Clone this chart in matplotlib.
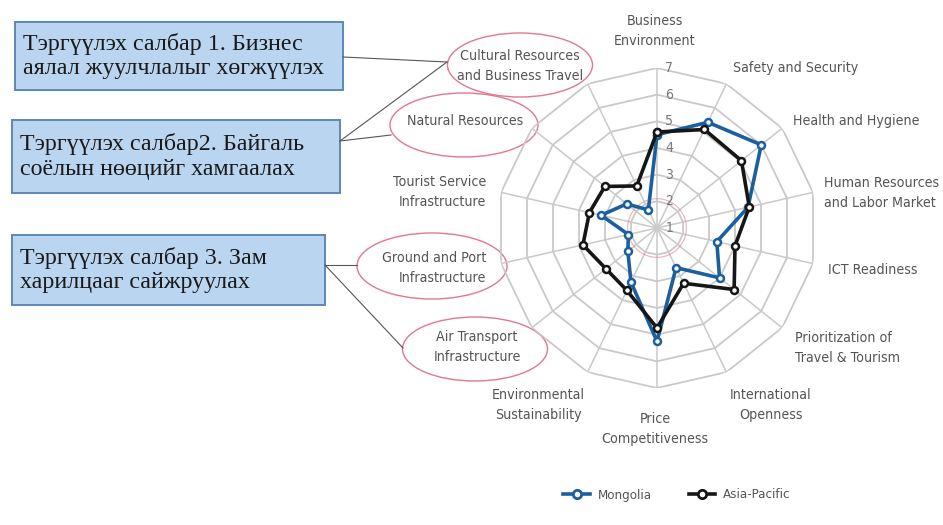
import numpy as np
import matplotlib
matplotlib.use("Agg")
import matplotlib.pyplot as plt
from matplotlib import font_manager
from matplotlib.patches import Ellipse, Rectangle
from matplotlib.lines import Line2D

# --- data -------------------------------------------------------------
categories = [
    "Business\nEnvironment", "Safety and Security", "Health and Hygiene",
    "Human Resources\nand Labor Market", "ICT Readiness",
    "Prioritization of\nTravel & Tourism", "International\nOpenness",
    "Price\nCompetitiveness", "Environmental\nSustainability",
    "Air Transport\nInfrastructure", "Ground and Port\nInfrastructure",
    "Tourist Service\nInfrastructure", "Natural Resources",
    "Cultural Resources\nand Business Travel",
]
mongolia = [4.5, 5.4, 6.0, 4.5, 3.3, 4.0, 2.65, 5.25, 3.25, 2.4, 2.1, 3.15, 2.45, 1.75]
asia_pacific = [4.6, 5.1, 5.05, 4.55, 4.0, 4.7, 3.3, 4.75, 3.6, 3.45, 3.85, 3.6, 3.5, 2.75]
scale_ticks = [1, 2, 3, 4, 5, 6, 7]
series_names = ["Mongolia", "Asia-Pacific"]
priority_texts = [
    "Тэргүүлэх салбар 1. Бизнес\nаялал жуулчлалыг хөгжүүлэх",
    "Тэргүүлэх салбар2. Байгаль\nсоёлын нөөцийг хамгаалах",
    "Тэргүүлэх салбар 3. Зам\nхарилцааг сайжруулах",
]

BLUE = "#1c5f9e"
BLACK = "#161616"
GRID = "#c9c9c9"
PINK = "#e0788e"
TXT = "#555555"
SERIF = ["Liberation Serif", "DejaVu Serif"]

# narrow sans if one is installed, else plain Liberation Sans
narrow_file = None
for f in sorted(font_manager.findSystemFonts()):
    name = f.split("/")[-1]
    if ("Narrow" in name or "Condensed" in name) and "Bold" not in name \
            and "Italic" not in name and "Oblique" not in name and "Serif" not in name \
            and "Mono" not in name:
        narrow_file = f
        break


def lab_font(size):
    if narrow_file:
        return font_manager.FontProperties(fname=narrow_file, size=size + 1)
    return font_manager.FontProperties(family=["Liberation Sans", "DejaVu Sans"], size=size)


W, H = 943, 525
fig = plt.figure(figsize=(W / 100, H / 100), dpi=100)

# overlay in pixel coordinates for boxes / ellipses / labels
bg = fig.add_axes([0, 0, 1, 1], zorder=0)
bg.set_xlim(0, W)
bg.set_ylim(H, 0)
bg.axis("off")

# --- radar ------------------------------------------------------------
cx, cy, rad = 657, 228, 160
ax = fig.add_axes([(cx - rad) / W, (H - cy - rad) / H, 2 * rad / W, 2 * rad / H],
                  projection="polar", zorder=2)
ax.set_facecolor("none")
ax.set_theta_zero_location("N")
ax.set_theta_direction(-1)
ax.set_ylim(1, 7)
ax.grid(False)
ax.spines["polar"].set_visible(False)
ax.set_xticks([])
ax.set_yticks([])

n = len(categories)
theta = np.linspace(0, 2 * np.pi, n, endpoint=False)
closed = np.append(theta, theta[0])

for v in scale_ticks[1:]:
    ax.plot(closed, [v] * (n + 1), color=GRID, lw=1.3, zorder=1)
for t in theta:
    ax.plot([t, t], [1, 7], color=GRID, lw=1.1, zorder=1)
ring = np.linspace(0, 2 * np.pi, 100)
ax.plot(ring, np.full_like(ring, 2.1), color=PINK, lw=0.8, alpha=0.6, zorder=1)

for v in scale_ticks:
    ax.annotate(str(v), (0, v), xytext=(9, 0), textcoords="offset points",
                ha="center", va="center", fontproperties=lab_font(9),
                color="#777777", zorder=5)

for vals, col in [(mongolia, BLUE), (asia_pacific, BLACK)]:
    ax.plot(closed, vals + vals[:1], color=col, lw=2.6, marker="o", ms=5,
            mfc="white", mec=col, mew=1.8, zorder=3)

# --- category labels --------------------------------------------------
label_pos = [
    (655, 31, "center"), (733, 68, "left"), (793, 121, "left"),
    (824, 193, "left"), (828, 270, "left"), (795, 348, "left"),
    (771, 405, "center"), (655, 429, "center"), (538, 405, "center"),
    (477, 347, "center"), (486, 268, "right"), (486, 192, "right"),
    (465, 121, "center"), (520, 66, "center"),
]
for lab, (x, y, ha) in zip(categories, label_pos):
    bg.text(x, y, lab, ha=ha, va="center", fontproperties=lab_font(9.2),
            color=TXT, linespacing=1.55, multialignment=ha)

# ellipses round highlighted pillars
for ex, ey, ew, eh in [(520, 65, 145, 64), (464, 125, 148, 64),
                       (432, 266, 150, 66), (475, 349, 145, 64)]:
    bg.add_patch(Ellipse((ex, ey), ew, eh, fill=False, ec=PINK, lw=1.0))

# priority boxes
boxes = [(15, 22, 328, 68), (12, 120, 328, 73), (12, 235, 313, 70)]
for (bx, by, bw, bh), txt in zip(boxes, priority_texts):
    bg.add_patch(Rectangle((bx, by), bw, bh, fc="#b9d5ef", ec="#5d88b6", lw=1.4))
    bg.text(bx + 8, by + bh / 2, txt, ha="left", va="center", fontsize=17.3,
            family=SERIF, color="#1a1a1a", linespacing=1.22)

# connector lines
for x0, y0, x1, y1 in [(343, 57, 447, 62), (340, 141, 447, 62),
                       (340, 141, 391, 135), (325, 265, 357, 265),
                       (325, 265, 403, 348)]:
    bg.plot([x0, x1], [y0, y1], color="#555555", lw=0.8)

# --- legend -----------------------------------------------------------
handles = [Line2D([], [], color=c, lw=2.6, marker="o", ms=6, mfc="white",
                  mec=c, mew=2) for c in (BLUE, BLACK)]
fig.legend(handles, series_names, loc="center", ncol=2, frameon=False,
           bbox_to_anchor=(677 / W, 1 - 495 / H), handlelength=2.0,
           columnspacing=2.8, handletextpad=0.6,
           prop=lab_font(8.5), labelcolor=TXT)

fig.savefig("out.png", dpi=100, facecolor="white")
